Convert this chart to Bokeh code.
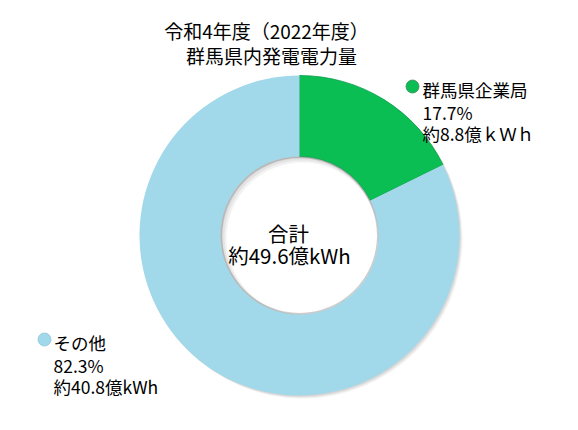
import math
from bokeh.plotting import figure
from bokeh.models import Range1d
from bokeh.core.properties import value
from bokeh.embed import file_html
from bokeh.resources import INLINE

# ---- data ----
title_lines = ["令和4年度（2022年度）", "群馬県内発電電力量"]
categories = ["群馬県企業局", "その他"]
percents = [17.7, 82.3]
amounts = ["約8.8億ｋＷｈ", "約40.8億kWh"]
colors = ["#0ABE54", "#A1D8EA"]
total_label = ["合計", "約49.6億kWh"]

W, H = 562, 414
FONT = value("Noto Sans CJK JP")

p = figure(width=W, height=H, output_backend="svg", toolbar_location=None,
           x_range=Range1d(0, W), y_range=Range1d(0, H), min_border=0,
           match_aspect=False)
p.axis.visible = False
p.grid.visible = False
p.outline_line_color = None
p.background_fill_color = "white"
p.border_fill_color = "white"

cx, cy = 299, 179
r_out, r_in = 160, 79

# angles: start at 12 o'clock, go clockwise
starts, ends = [], []
cum = 0.0
for pc in percents:
    a0 = math.pi / 2 - 2 * math.pi * (cum + pc) / 100.0
    a1 = math.pi / 2 - 2 * math.pi * cum / 100.0
    starts.append(a0)
    ends.append(a1)
    cum += pc

# soft shadow
for off, al in [(3, 0.10), (2, 0.12), (1, 0.15)]:
    p.annulus(x=cx + off, y=cy - off, inner_radius=r_in - off, outer_radius=r_out,
              fill_color="#808080", fill_alpha=al, line_color=None)

edge = ["#079A44", None]
for i in range(len(categories)):
    p.annular_wedge(x=cx, y=cy, inner_radius=r_in, outer_radius=r_out,
                    start_angle=starts[i], end_angle=ends[i],
                    fill_color=colors[i], line_color=edge[i], line_width=0.8)

# inner hole shadow ring (subtle)
p.annulus(x=cx, y=cy, inner_radius=r_in - 1.5, outer_radius=r_in,
          fill_color="#9a9a9a", fill_alpha=0.5, line_color=None)

# title
p.text(x=[266, 271], y=[384, 359], text=title_lines, text_font=FONT,
       text_font_size="19px", text_align="center", text_baseline="middle",
       text_color="#000000")

# center label
p.text(x=[288, 289], y=[182, 160], text=total_label, text_font=FONT,
       text_font_size="20.5px", text_align="center", text_baseline="middle",
       text_color="#000000")

# category labels
lab_x = [422, 53]
lab_y = [325, 72]
marker_x = [412, 44]
for i in range(len(categories)):
    p.scatter(x=[marker_x[i]], y=[lab_y[i] + 3], size=13, fill_color=colors[i],
              line_color="#3f8a5c" if i == 0 else "#8fc6d8", line_width=0.8)
    p.text(x=[lab_x[i]] * 3, y=[lab_y[i], lab_y[i] - 23, lab_y[i] - 44],
           text=[categories[i], f"{percents[i]:.1f}%", amounts[i]],
           text_font=FONT, text_font_size="17.5px", text_align="left",
           text_baseline="middle", text_color="#000000")

open("out.html", "w").write(file_html(p, INLINE))
